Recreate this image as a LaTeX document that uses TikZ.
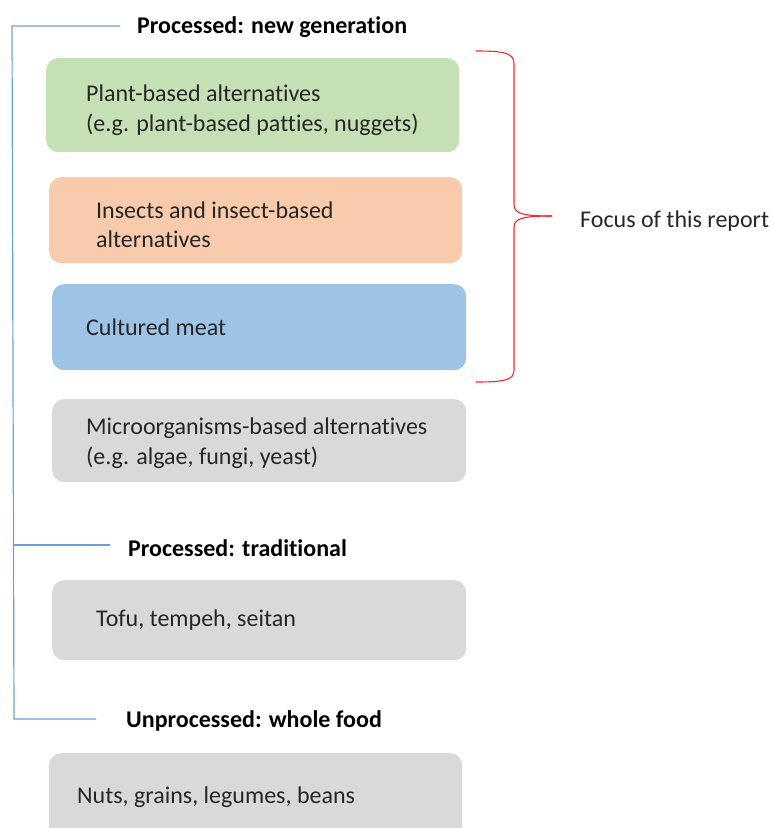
\documentclass[tikz,border=0pt]{standalone}
\usepackage{fontspec}
\setmainfont{Carlito}[Ligatures={NoCommon}]
\begin{document}
\begin{tikzpicture}[x=1pt,y=-1pt,
  catbox/.style={draw=none,rounded corners=12pt,anchor=north west,inner sep=0pt},
  boxtext/.style={anchor=west,inner sep=0pt,align=left,font=\fontsize{24}{29.5}\selectfont,text=black!85},
  heading/.style={anchor=west,inner sep=0pt,font=\fontsize{24}{28}\selectfont\bfseries},
  bracket/.style={line width=1.2pt},
  redbrace/.style={draw=red!85,line width=1.1pt}]
\useasboundingbox (0,0) rectangle (774,828);
\clip (0,0) rectangle (774,828);
\definecolor{cgreen}{HTML}{C5E0B4}
\definecolor{corange}{HTML}{F8CBAD}
\definecolor{cblue}{HTML}{9DC3E6}
\definecolor{cgray}{HTML}{D9D9D9}
\definecolor{cline}{HTML}{6FA0DC}
% headings
\node[heading] (h1) at (137,27) {Processed: new generation};
\node[heading] (h2) at (128,548) {Processed: traditional};
\node[heading] (h3) at (126,721) {Unprocessed: whole food};
% boxes
\node[catbox,fill=cgreen,minimum width=413pt,minimum height=94pt] (b1) at (46,58) {};
\node[catbox,fill=corange,minimum width=413pt,minimum height=86pt] (b2) at (49,177) {};
\node[catbox,fill=cblue,minimum width=414pt,minimum height=86pt] (b3) at (52,284) {};
\node[catbox,fill=cgray,minimum width=414pt,minimum height=83pt] (b4) at (52,399) {};
\node[catbox,fill=cgray,minimum width=414pt,minimum height=80pt] (b5) at (52,580) {};
\node[catbox,fill=cgray,minimum width=413pt,minimum height=100pt] (b6) at (49,753) {};
% texts
\node[boxtext] (t1) at (86,110) {Plant-based alternatives\\(e.g. plant-based patties, nuggets)};
\node[boxtext] (t2) at (96,225) {Insects and insect-based\\alternatives};
\node[boxtext] (t3) at (86,327) {Cultured meat};
\node[boxtext] (t4) at (86,443) {Microorganisms-based alternatives\\(e.g. algae, fungi, yeast)};
\node[boxtext] (t5) at (96,620) {Tofu, tempeh, seitan};
\node[boxtext] (t6) at (77,797) {Nuts, grains, legumes, beans};
\node[boxtext] (focus) at (580,221) {Focus of this report};
% blue bracket
\coordinate (c1) at (120,26);
\coordinate (c2) at (110,545);
\coordinate (c3) at (96,719);
\draw[bracket,draw=cline] (c1) -- (12,26) -- (14,719) -- (c3);
\draw[bracket,draw=cline] (13,545) -- (c2);
% red brace
\coordinate (rtop) at (476,51);
\coordinate (rtip) at (552,216);
\coordinate (rbot) at (476,382);
\draw[redbrace] (rtop) .. controls (505,51) and (514,53) .. (514,64)
  -- (514,204) .. controls (514,213) and (520,216) .. (rtip);
\draw[redbrace] (rtip) .. controls (520,216) and (514,219) .. (514,228)
  -- (514,370) .. controls (514,380) and (505,382) .. (rbot);
\end{tikzpicture}
\end{document}
